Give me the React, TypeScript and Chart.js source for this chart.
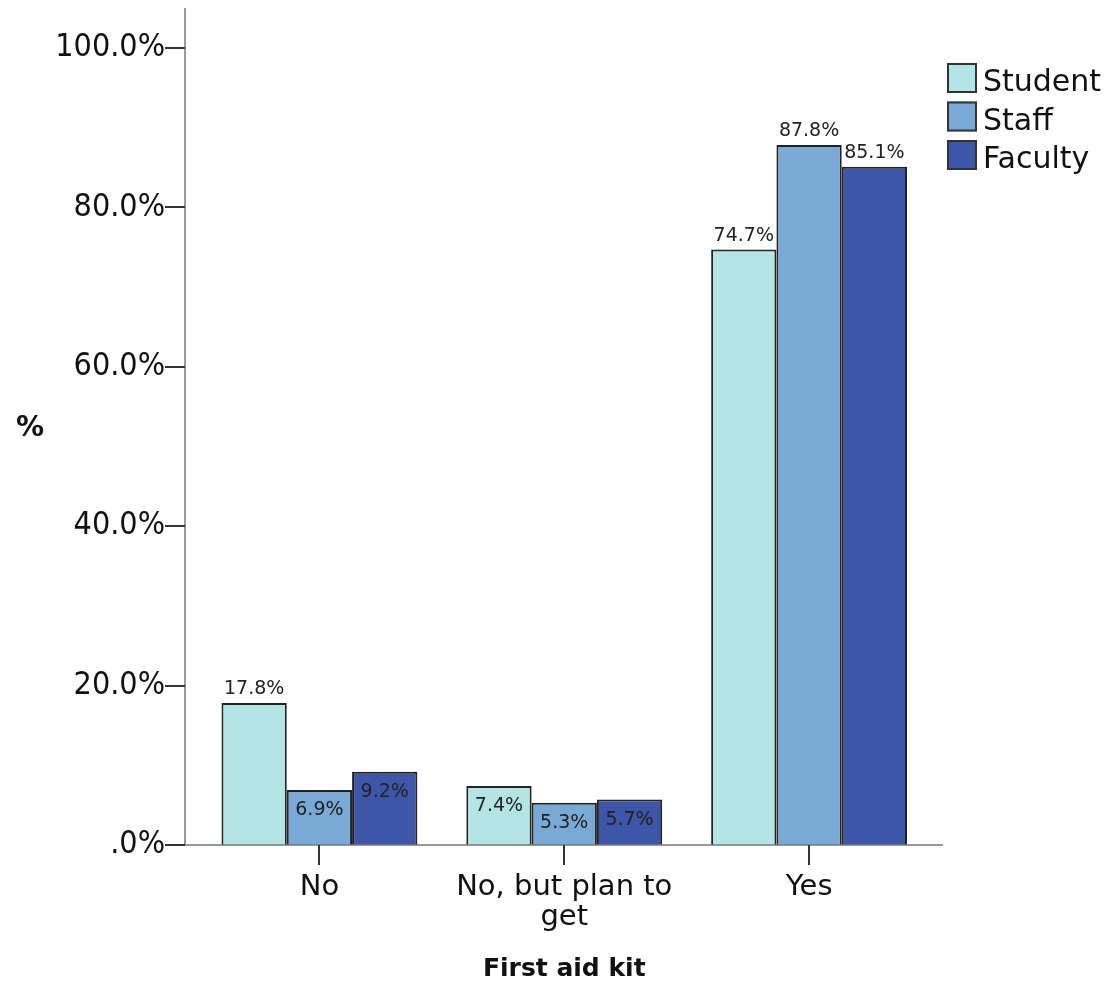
import React, { useEffect, useRef } from "react";
import { Chart, registerables } from "chart.js";

Chart.register(...registerables);

const categories: (string | string[])[] = ["No", ["No, but plan to", "get"], "Yes"];
const seriesNames = ["Student", "Staff", "Faculty"];
const studentValues = [17.8, 7.4, 74.7];
const staffValues = [6.9, 5.3, 87.8];
const facultyValues = [9.2, 5.7, 85.1];
const seriesColors = ["#b3e5e4", "#79a9d5", "#3e56a8"];
const yTickValues = [0, 20, 40, 60, 80, 100];
const yTickLabels = [".0%", "20.0%", "40.0%", "60.0%", "80.0%", "100.0%"];
const xTitle = "First aid kit";
const yTitle = "%";

const TICK_FONT = "'DejaVu Sans Condensed', 'DejaVu Sans', sans-serif";
const SANS = "'DejaVu Sans', sans-serif";

const decorPlugin = {
  id: "decor",
  afterDraw(chart: any) {
    const ctx = chart.ctx;
    const y = chart.scales.y;
    const x = chart.scales.x;
    const ca = chart.chartArea;
    const axisX = 185;
    const axisRight = 943;
    ctx.save();
    // y axis line
    ctx.strokeStyle = "#9a9a9a";
    ctx.lineWidth = 2;
    ctx.beginPath();
    ctx.moveTo(axisX, ca.top);
    ctx.lineTo(axisX, ca.bottom);
    ctx.stroke();
    // x axis line
    ctx.strokeStyle = "#777";
    ctx.lineWidth = 1.5;
    ctx.beginPath();
    ctx.moveTo(axisX, ca.bottom);
    ctx.lineTo(axisRight, ca.bottom);
    ctx.stroke();
    // y tick marks
    ctx.strokeStyle = "#333";
    ctx.lineWidth = 2;
    yTickValues.forEach((v) => {
      const py = Math.round(y.getPixelForValue(v));
      ctx.beginPath();
      ctx.moveTo(axisX - 20, py);
      ctx.lineTo(axisX, py);
      ctx.stroke();
    });
    // x tick marks
    categories.forEach((_, i) => {
      const px = Math.round(x.getPixelForValue(i));
      ctx.beginPath();
      ctx.moveTo(px, ca.bottom);
      ctx.lineTo(px, ca.bottom + 20);
      ctx.stroke();
    });
    // y title
    ctx.fillStyle = "#111";
    ctx.font = "bold 28px " + SANS;
    ctx.textAlign = "center";
    ctx.textBaseline = "middle";
    ctx.fillText(yTitle, 30, 429);
    // legend
    const lx = 947;
    const ly0 = 63;
    const step = 38.5;
    chart.data.datasets.forEach((ds: any, i: number) => {
      const by = ly0 + i * step;
      ctx.fillStyle = ds.backgroundColor;
      ctx.fillRect(lx, by, 30, 30);
      ctx.strokeStyle = "#333";
      ctx.lineWidth = 2;
      ctx.strokeRect(lx + 1, by + 1, 28, 28);
      ctx.fillStyle = "#111";
      ctx.font = "30px " + SANS;
      ctx.textAlign = "left";
      ctx.textBaseline = "alphabetic";
      ctx.fillText(ds.label, lx + 36, by + 28);
    });
    ctx.restore();
  },
  afterDatasetsDraw(chart: any) {
    const ctx = chart.ctx;
    ctx.save();
    ctx.font = "19px " + SANS;
    ctx.fillStyle = "#222";
    ctx.textAlign = "center";
    ctx.textBaseline = "alphabetic";
    chart.data.datasets.forEach((ds: any, di: number) => {
      const meta = chart.getDatasetMeta(di);
      meta.data.forEach((bar: any, i: number) => {
        const v = ds.data[i];
        const txt = v.toFixed(1) + "%";
        if (v >= 10) {
          ctx.fillText(txt, bar.x, bar.y - 9);
        } else {
          ctx.fillText(txt, bar.x, bar.y + 25);
        }
      });
    });
    ctx.restore();
  },
};

export default function App() {
  const ref = useRef<HTMLCanvasElement | null>(null);
  useEffect(() => {
    if (!ref.current) return;
    const chart = new Chart(ref.current, {
      type: "bar",
      data: {
        labels: categories as any,
        datasets: [studentValues, staffValues, facultyValues].map((d, i) => ({
          label: seriesNames[i],
          data: d,
          backgroundColor: seriesColors[i],
          borderColor: "#222",
          borderWidth: 2,
          categoryPercentage: 0.8,
          barPercentage: 1.0,
        })),
      },
      options: {
        responsive: false,
        animation: false,
        devicePixelRatio: 1,
        layout: { padding: { left: 0, top: 8, right: 1118 - 931.5, bottom: 0 } },
        plugins: {
          legend: { display: false },
          tooltip: { enabled: false },
        },
        scales: {
          x: {
            type: "category",
            offset: true,
            grid: { display: false, drawTicks: false },
            border: { display: false },
            ticks: {
              padding: 27,
              color: "#111",
              maxRotation: 0,
              autoSkip: false,
              font: { family: SANS, size: 29, lineHeight: "30px" },
            },
            title: {
              display: true,
              text: xTitle,
              color: "#111",
              font: { family: SANS, size: 25, weight: "bold", lineHeight: "30px" },
              padding: { top: 3, bottom: 3 },
            },
            afterFit: (s: any) => {
              s.height = 987 - 845;
              s.paddingLeft = 0;
              s.paddingRight = 0;
            },
          },
          y: {
            type: "linear",
            min: 0,
            max: 105,
            grid: { display: false, drawTicks: false },
            border: { display: false },
            afterBuildTicks: (s: any) => {
              s.ticks = yTickValues.map((v) => ({ value: v }));
            },
            ticks: {
              padding: 32,
              color: "#111",
              font: { family: TICK_FONT, size: 32 },
              callback: (v: any) => {
                const idx = yTickValues.indexOf(Number(v));
                return idx >= 0 ? yTickLabels[idx] : "";
              },
            },
            afterFit: (s: any) => {
              s.width = 197;
              s.paddingTop = 0;
              s.paddingBottom = 0;
            },
          },
        },
      },
      plugins: [decorPlugin],
    });
    return () => chart.destroy();
  }, []);
  return (
    <div style={{ position: "fixed", left: 0, top: 0, width: 1118, height: 987, background: "#fff" }}>
      <canvas ref={ref} width={1118} height={987} style={{ display: "block" }} />
    </div>
  );
}
